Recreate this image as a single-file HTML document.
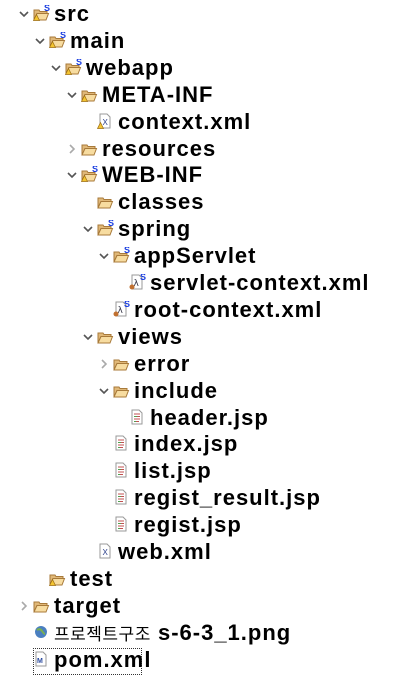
<!DOCTYPE html>
<html><head><meta charset="utf-8"><style>
body{margin:0;width:414px;height:677px;background:#fff;overflow:hidden;position:relative;font-family:"Liberation Sans","Noto Sans CJK KR",sans-serif}
.r{position:absolute;height:26px;line-height:26px;font-size:22px;letter-spacing:1px;font-weight:bold;color:#000;white-space:nowrap}
svg.i{position:absolute}
</style></head><body>
<svg width="0" height="0" style="position:absolute"><defs>
<g id="fold"><path d="M1 3h5l1 1.5h7v2H4L1 13z" fill="#e0b878" stroke="#a87a3a" stroke-width="1"/><path d="M1 13L4 6.5h11.5L13 13z" fill="#f7dca0" stroke="#a87a3a" stroke-width="1"/></g>
<g id="s"><text x="11" y="6" font-size="9" font-family="Liberation Sans" font-weight="bold" fill="#1a3ee0">S</text></g>
<g id="w"><path d="M0.5 15.5L3.5 9.5L6.5 15.5z" fill="#f3c430" stroke="#9a6b10" stroke-width="0.7"/></g>
<g id="file"><path d="M3 1h7l3 3v11H3z" fill="#fff" stroke="#999" stroke-width="1"/></g>
<g id="jsp"><use href="#file"/><path d="M5 5h6M5 7.5h6M5 10h6M5 12.5h5" stroke="#c05050" stroke-width="1"/><path d="M5 7.5h3M5 12.5h2" stroke="#50a050" stroke-width="1"/></g>
</defs></svg>

<div id="tree"></div>
<script>
var rows=[
["src",0,"e","fsw"],["main",1,"e","fsw"],["webapp",2,"e","fsw"],["META-INF",3,"e","fw"],
["context.xml",4,"","xw"],["resources",3,"c","f"],["WEB-INF",3,"e","fsw"],["classes",4,"","f"],
["spring",4,"e","fs"],["appServlet",5,"e","fs"],["servlet-context.xml",6,"","l"],["root-context.xml",5,"","l"],
["views",4,"e","f"],["error",5,"c","f"],["include",5,"e","f"],["header.jsp",6,"","j"],
["index.jsp",5,"","j"],["list.jsp",5,"","j"],["regist_result.jsp",5,"","j"],["regist.jsp",5,"","j"],
["web.xml",4,"","x"],["test",1,"","fw"],["target",0,"c","f"],["png",0,"","g"],["pom.xml",0,"","m"]];
var h="";
rows.forEach(function(r,i){
 var cy=14+26.9*i, L=r[1], tx=54+16*L, ix=33+16*L, top=cy-13;
 if(r[2]=="e") h+='<svg class="i" style="left:'+(19+16*L)+'px;top:'+(cy-3)+'px" width="10" height="7"><path d="M1 1l4 4 4-4" fill="none" stroke="#555" stroke-width="1.6"/></svg>';
 if(r[2]=="c") h+='<svg class="i" style="left:'+(21+16*L)+'px;top:'+(cy-5)+'px" width="7" height="10"><path d="M1 1l4 4-4 4" fill="none" stroke="#aaa" stroke-width="1.6"/></svg>';
 var t=r[3],g="";
 if(t[0]=="f") g+='<use href="#fold" y="2"/>';
 if(t[0]=="x") g+='<use href="#file"/><text x="5.5" y="12" font-size="8" font-family="Liberation Sans" fill="#2a3e8a">X</text>';
 if(t[0]=="l") g+='<use href="#file"/><text x="4.5" y="12" font-size="9" font-family="DejaVu Sans" fill="#334">λ</text><use href="#s"/><circle cx="3" cy="13" r="2.5" fill="#c07030"/>';
 if(t[0]=="j") g+='<use href="#jsp"/>';
 if(t[0]=="g") g+='<circle cx="8" cy="8" r="6" fill="#4a7fc0"/><path d="M4 6q3-2 5 1t3 3" stroke="#7ab050" stroke-width="2" fill="none"/>';
 if(t[0]=="m") g+='<use href="#file"/><text x="4" y="12" font-size="7" font-weight="bold" font-family="Liberation Sans" fill="#2a4aa0">M</text>';
 if(t.indexOf("s")>0&&t[0]=="f") g+='<use href="#s"/>';
 if(t.indexOf("w")>0) g+='<use href="#w"/>';
 h+='<svg class="i" style="left:'+ix+'px;top:'+(cy-9)+'px" width="18" height="17">'+g+'</svg>';
 var label=r[0];
 if(label=="png") label='<span style="font-weight:normal;font-size:17px;letter-spacing:0.5px">프로젝트구조</span> s-6-3_1.png';
 h+='<div class="r" style="left:'+tx+'px;top:'+top+'px">'+label+'</div>';
});
h+='<div style="position:absolute;left:33px;top:648px;width:109px;height:27px;border:1px dotted #333;box-sizing:border-box"></div>';
document.getElementById("tree").innerHTML=h;
</script>
</body></html>
